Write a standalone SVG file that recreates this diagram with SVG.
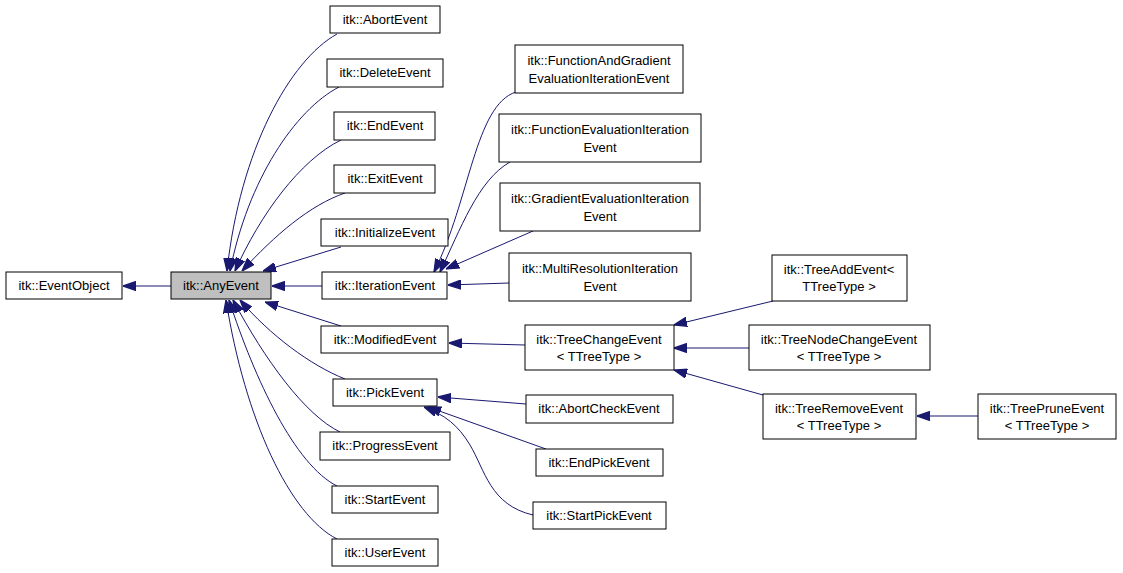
<svg xmlns="http://www.w3.org/2000/svg" width="1123" height="573" viewBox="0 0 1123 573">
<style>
rect{fill:#fff;stroke:#000;stroke-width:1}
#AnyEvent rect{fill:#bfbfbf}
text{font-family:"Liberation Sans",Arial,sans-serif;font-size:13px;text-anchor:middle;fill:#000}
#edges path{fill:none;stroke:#191970;stroke-width:1;marker-end:url(#a)}
</style>
<defs><marker id="a" viewBox="0 0 10 7" markerWidth="13" markerHeight="10" refX="10" refY="3.5" orient="auto" markerUnits="userSpaceOnUse"><path d="M0,0L10,3.5L0,7z" fill="#191970" stroke="#191970"/></marker></defs>
<rect width="1123" height="573" style="stroke:none"/>
<g id="edges">
<path d="M171,286L123,286"/>
<path d="M337,34C290,60 240,150 227,271"/>
<path d="M339,87C295,110 248,180 230,271"/>
<path d="M341,140C300,160 260,215 235,271"/>
<path d="M345,193C310,205 275,235 242,271"/>
<path d="M341,247L263,271"/>
<path d="M322,286L272,286"/>
<path d="M341,326L265,302"/>
<path d="M345,379C310,365 270,335 240,300"/>
<path d="M340,432C305,415 265,360 233,300"/>
<path d="M337,486C295,465 255,380 229,300"/>
<path d="M337,539C290,515 245,420 226,300"/>
<path d="M516,92C475,105 470,200 434,272"/>
<path d="M510,162C478,180 460,230 440,272"/>
<path d="M533,231L446,269"/>
<path d="M509,283L448,285"/>
<path d="M525,345L449,343"/>
<path d="M526,404L438,397"/>
<path d="M546,449L428,407"/>
<path d="M533,515C490,505 485,470 470,445C458,425 445,415 424,407"/>
<path d="M773,301L674,325"/>
<path d="M749,348L674,348"/>
<path d="M763,395L674,370"/>
<path d="M978,416L917,416"/>
</g>
<g id="EventObject"><rect x="6" y="272" width="116" height="27"/><text x="64" y="290">itk::EventObject</text></g>
<g id="AnyEvent"><rect x="171" y="272" width="100" height="27"/><text x="221" y="290">itk::AnyEvent</text></g>
<g id="AbortEvent"><rect x="330" y="6" width="110" height="27"/><text x="385" y="24">itk::AbortEvent</text></g>
<g id="DeleteEvent"><rect x="327" y="59" width="116" height="28"/><text x="385" y="77">itk::DeleteEvent</text></g>
<g id="EndEvent"><rect x="334" y="112" width="101" height="28"/><text x="385" y="130">itk::EndEvent</text></g>
<g id="ExitEvent"><rect x="334" y="165" width="101" height="28"/><text x="385" y="183">itk::ExitEvent</text></g>
<g id="InitializeEvent"><rect x="321" y="219" width="127" height="27"/><text x="385" y="237">itk::InitializeEvent</text></g>
<g id="IterationEvent"><rect x="322" y="272" width="125" height="27"/><text x="385" y="290">itk::IterationEvent</text></g>
<g id="ModifiedEvent"><rect x="321" y="326" width="127" height="27"/><text x="385" y="344">itk::ModifiedEvent</text></g>
<g id="PickEvent"><rect x="333" y="379" width="104" height="27"/><text x="385" y="397">itk::PickEvent</text></g>
<g id="ProgressEvent"><rect x="320" y="432" width="130" height="28"/><text x="385" y="450">itk::ProgressEvent</text></g>
<g id="StartEvent"><rect x="332" y="486" width="106" height="27"/><text x="385" y="504">itk::StartEvent</text></g>
<g id="UserEvent"><rect x="332" y="539" width="106" height="27"/><text x="385" y="557">itk::UserEvent</text></g>
<g id="FunctionAndGradient"><rect x="515" y="45" width="168" height="48"/><text x="599" y="65">itk::FunctionAndGradient</text><text x="599" y="83">EvaluationIterationEvent</text></g>
<g id="FunctionEvaluation"><rect x="499" y="114" width="202" height="48"/><text x="600" y="134">itk::FunctionEvaluationIteration</text><text x="600" y="152">Event</text></g>
<g id="GradientEvaluation"><rect x="500" y="183" width="200" height="48"/><text x="600" y="203">itk::GradientEvaluationIteration</text><text x="600" y="221">Event</text></g>
<g id="MultiResolution"><rect x="509" y="253" width="182" height="48"/><text x="600" y="273">itk::MultiResolutionIteration</text><text x="600" y="291">Event</text></g>
<g id="TreeChangeEvent"><rect x="525" y="325" width="149" height="45"/><text x="599" y="344">itk::TreeChangeEvent</text><text x="599" y="361">&lt; TTreeType &gt;</text></g>
<g id="AbortCheckEvent"><rect x="526" y="395" width="147" height="28"/><text x="599" y="413">itk::AbortCheckEvent</text></g>
<g id="EndPickEvent"><rect x="536" y="449" width="127" height="27"/><text x="599" y="467">itk::EndPickEvent</text></g>
<g id="StartPickEvent"><rect x="533" y="502" width="133" height="27"/><text x="599" y="520">itk::StartPickEvent</text></g>
<g id="TreeAddEvent"><rect x="772" y="255" width="135" height="46"/><text x="839" y="274">itk::TreeAddEvent&lt;</text><text x="839" y="291">TTreeType &gt;</text></g>
<g id="TreeNodeChangeEvent"><rect x="749" y="325" width="181" height="45"/><text x="839" y="344">itk::TreeNodeChangeEvent</text><text x="839" y="361">&lt; TTreeType &gt;</text></g>
<g id="TreeRemoveEvent"><rect x="763" y="394" width="153" height="45"/><text x="839" y="413">itk::TreeRemoveEvent</text><text x="839" y="430">&lt; TTreeType &gt;</text></g>
<g id="TreePruneEvent"><rect x="978" y="394" width="138" height="45"/><text x="1047" y="413">itk::TreePruneEvent</text><text x="1047" y="430">&lt; TTreeType &gt;</text></g>
</svg>
